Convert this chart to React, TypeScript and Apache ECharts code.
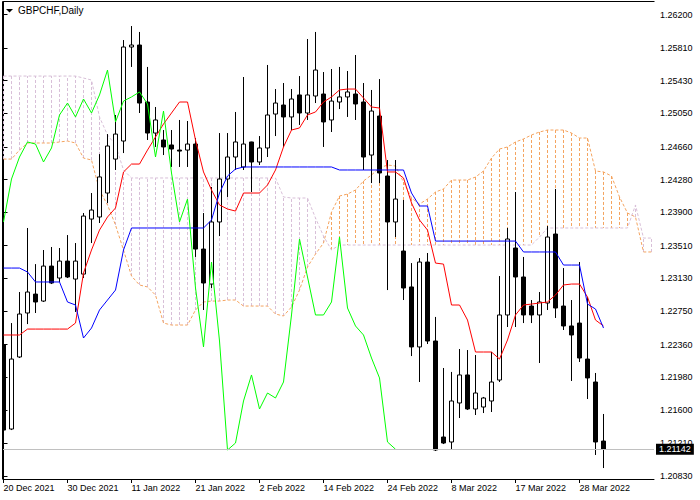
import React, { useEffect, useRef } from "react";
import * as echarts from "echarts";

// Trading days (bar index -> date)
const dates = [
  "20 Dec 2021","21 Dec 2021","22 Dec 2021","23 Dec 2021","24 Dec 2021","27 Dec 2021","28 Dec 2021","29 Dec 2021","30 Dec 2021","31 Dec 2021",
  "3 Jan 2022","4 Jan 2022","5 Jan 2022","6 Jan 2022","7 Jan 2022","10 Jan 2022","11 Jan 2022","12 Jan 2022","13 Jan 2022","14 Jan 2022",
  "17 Jan 2022","18 Jan 2022","19 Jan 2022","20 Jan 2022","21 Jan 2022","24 Jan 2022","25 Jan 2022","26 Jan 2022","27 Jan 2022","28 Jan 2022",
  "31 Jan 2022","1 Feb 2022","2 Feb 2022","3 Feb 2022","4 Feb 2022","7 Feb 2022","8 Feb 2022","9 Feb 2022","10 Feb 2022","11 Feb 2022",
  "14 Feb 2022","15 Feb 2022","16 Feb 2022","17 Feb 2022","18 Feb 2022","21 Feb 2022","22 Feb 2022","23 Feb 2022","24 Feb 2022","25 Feb 2022",
  "28 Feb 2022","1 Mar 2022","2 Mar 2022","3 Mar 2022","4 Mar 2022","7 Mar 2022","8 Mar 2022","9 Mar 2022","10 Mar 2022","11 Mar 2022",
  "13 Mar 2022","14 Mar 2022","15 Mar 2022","16 Mar 2022","17 Mar 2022","18 Mar 2022","21 Mar 2022","22 Mar 2022","23 Mar 2022","24 Mar 2022",
  "25 Mar 2022","27 Mar 2022","28 Mar 2022","29 Mar 2022","30 Mar 2022","31 Mar 2022",
];

const open = [
  1.22355, 1.21377, 1.22215, 1.22727, 1.22947, 1.22866, 1.23273, 1.23134, 1.23331, 1.23122,
  1.23180, 1.23820, 1.23844, 1.24123, 1.24518, 1.24728, 1.25822, 1.25845, 1.25182, 1.24821,
  1.24740, 1.24682, 1.24623, 1.24623, 1.24693, 1.23471, 1.23064, 1.23786, 1.24286, 1.24542,
  1.24426, 1.24717, 1.24484, 1.24647, 1.25042, 1.25147, 1.25008, 1.25264, 1.25054, 1.25252,
  1.25275, 1.24973, 1.25182, 1.25241, 1.25275, 1.25182, 1.24565, 1.25019, 1.24321, 1.23786,
  1.23448, 1.23030, 1.22332, 1.23320, 1.22401, 1.21284, 1.21226, 1.21680, 1.22006, 1.21610,
  1.21633, 1.21703, 1.21947, 1.22704, 1.23483, 1.23146, 1.22808, 1.22704, 1.22843, 1.23646,
  1.22808, 1.22576, 1.22610, 1.22191, 1.21924, 1.21237,
];
const close = [
  1.21365, 1.22191, 1.22715, 1.22971, 1.22855, 1.23273, 1.23076, 1.23331, 1.23146, 1.23331,
  1.23855, 1.23925, 1.24310, 1.24670, 1.24809, 1.25822, 1.25845, 1.25170, 1.24821, 1.24973,
  1.24659, 1.24635, 1.24611, 1.24693, 1.23471, 1.23076, 1.23786, 1.24286, 1.24542, 1.24717,
  1.24693, 1.24484, 1.24647, 1.25031, 1.25170, 1.25008, 1.25217, 1.25054, 1.25264, 1.25554,
  1.24950, 1.25193, 1.25241, 1.25299, 1.25159, 1.24542, 1.25077, 1.24356, 1.23786, 1.24053,
  1.23018, 1.22332, 1.23320, 1.22401, 1.21133, 1.21214, 1.21703, 1.22006, 1.21610, 1.21796,
  1.21738, 1.21924, 1.22704, 1.23588, 1.23146, 1.22704, 1.22704, 1.22855, 1.23611, 1.22785,
  1.22576, 1.22471, 1.22203, 1.21971, 1.21226, 1.21142,
];
const low = [
  1.21353, 1.21365, 1.22203, 1.22598, 1.22727, 1.22855, 1.23064, 1.23088, 1.23134, 1.22739,
  1.23134, 1.23541, 1.23774, 1.24007, 1.24391, 1.24588, 1.25590, 1.25054, 1.24740, 1.24659,
  1.24565, 1.24426, 1.24426, 1.24426, 1.23379, 1.22762, 1.23018, 1.23622, 1.24077, 1.24391,
  1.24391, 1.24135, 1.24449, 1.24542, 1.24786, 1.24659, 1.24856, 1.24915, 1.24973, 1.25170,
  1.24659, 1.24833, 1.25100, 1.25008, 1.24973, 1.24391, 1.24239, 1.24239, 1.22994, 1.23611,
  1.22878, 1.22226, 1.21924, 1.22366, 1.21121, 1.21202, 1.21133, 1.21505, 1.21598, 1.21540,
  1.21563, 1.21575, 1.21924, 1.22564, 1.22564, 1.22610, 1.22610, 1.22145, 1.22762, 1.22669,
  1.22529, 1.21936, 1.22157, 1.21726, 1.21075, 1.20923,
];
const high = [
  1.22378, 1.22610, 1.22971, 1.23716, 1.23296, 1.23460, 1.23495, 1.23483, 1.23634, 1.23541,
  1.23890, 1.24123, 1.24576, 1.24809, 1.25031, 1.25903, 1.26066, 1.25997, 1.25590, 1.25124,
  1.24856, 1.24856, 1.24973, 1.24961, 1.24763, 1.23890, 1.24193, 1.24821, 1.24821, 1.25066,
  1.25473, 1.24720, 1.24786, 1.25613, 1.25333, 1.25403, 1.25333, 1.25484, 1.25915, 1.25997,
  1.25531, 1.25566, 1.25590, 1.25543, 1.25729, 1.25403, 1.25322, 1.25449, 1.24507, 1.24507,
  1.24042, 1.23308, 1.23366, 1.23425, 1.22681, 1.22087, 1.22041, 1.22308, 1.22296, 1.22238,
  1.21750, 1.22273, 1.23157, 1.23716, 1.24135, 1.23379, 1.22878, 1.22971, 1.23739, 1.24170,
  1.23250, 1.22878, 1.23320, 1.22913, 1.22029, 1.21552,
];

// Ichimoku lines
const tenkan = [
  1.22471, 1.22471, 1.22471, 1.22540, 1.22540, 1.22540, 1.22540, 1.22540, 1.22540, 1.22610,
  1.23192, 1.23460, 1.23692, 1.23844, 1.23949, 1.24368, 1.24460, 1.24460, 1.24623, 1.24775,
  1.24926, 1.25054, 1.25182, 1.25182, 1.24740, 1.24368, 1.24158, 1.23984, 1.23937, 1.23913,
  1.24123, 1.24123, 1.24123, 1.24216, 1.24391, 1.24659, 1.24856, 1.24880, 1.25031, 1.25066,
  1.25182, 1.25241, 1.25322, 1.25333, 1.25333, 1.25229, 1.25124, 1.25112, 1.24368, 1.24368,
  1.24298, 1.24007, 1.23809, 1.23692, 1.23308, 1.23296, 1.22820, 1.22820, 1.22645, 1.22273,
  1.22273, 1.22273, 1.22191, 1.22413, 1.22704, 1.22820, 1.22831, 1.22843, 1.22855, 1.22936,
  1.23053, 1.23064, 1.23064, 1.22913, 1.22645, 1.22576,
];
const kijun = [
  1.23250, 1.23250, 1.23250, 1.23204, 1.23088, 1.23088, 1.23088, 1.23088, 1.22855, 1.22820,
  1.22436, 1.22552, 1.22762, 1.22878, 1.22994, 1.23460, 1.23716, 1.23716, 1.23716, 1.23716,
  1.23716, 1.23716, 1.23716, 1.23716, 1.23716, 1.23716, 1.23809, 1.24123, 1.24321, 1.24402,
  1.24426, 1.24426, 1.24426, 1.24426, 1.24426, 1.24426, 1.24426, 1.24426, 1.24426, 1.24426,
  1.24426, 1.24426, 1.24391, 1.24391, 1.24391, 1.24391, 1.24391, 1.24391, 1.24391, 1.24391,
  1.24391, 1.24123, 1.23972, 1.23972, 1.23564, 1.23564, 1.23564, 1.23564, 1.23564, 1.23564,
  1.23564, 1.23564, 1.23564, 1.23564, 1.23564, 1.23437, 1.23437, 1.23437, 1.23437, 1.23437,
  1.23285, 1.23285, 1.23285, 1.22831, 1.22773, 1.22552,
];
const spanA = [
  1.24518, 1.24518, 1.24623, 1.24705, 1.24705, 1.24705, 1.24705, 1.24717, 1.24728, 1.24705,
  1.24530, 1.24507, 1.24158, 1.23984, 1.23751, 1.23460, 1.23157, 1.23053, 1.23030, 1.22936,
  1.22610, 1.22587, 1.22587, 1.22587, 1.22762, 1.22855, 1.22866, 1.22866, 1.22878, 1.22878,
  1.22808, 1.22808, 1.22808, 1.22808, 1.22715, 1.22692, 1.22797, 1.22994, 1.23262, 1.23413,
  1.23541, 1.23902, 1.24088, 1.24111, 1.24158, 1.24263, 1.24333, 1.24414, 1.24449, 1.24437,
  1.24251, 1.24065, 1.23995, 1.24053, 1.24135, 1.24170, 1.24274, 1.24274, 1.24274, 1.24309,
  1.24379, 1.24530, 1.24635, 1.24659, 1.24717, 1.24752, 1.24798, 1.24833, 1.24856, 1.24856,
  1.24856, 1.24821, 1.24763, 1.24763, 1.24379, 1.24368, 1.24321, 1.24077, 1.23890, 1.23844,
  1.23437, 1.23437,
];
const spanB = [
  1.25484, 1.25484, 1.25484, 1.25484, 1.25484, 1.25484, 1.25484, 1.25484, 1.25484, 1.25484,
  1.25461, 1.25438, 1.25008, 1.24798, 1.24682, 1.24391, 1.24298, 1.24298, 1.24298, 1.24298,
  1.24298, 1.24298, 1.24298, 1.24298, 1.24298, 1.24298, 1.24298, 1.24298, 1.24298, 1.24298,
  1.24298, 1.24298, 1.24298, 1.24298, 1.24298, 1.24077, 1.24065, 1.24065, 1.24065, 1.23832,
  1.23622, 1.23460, 1.23518, 1.23518, 1.23518, 1.23518, 1.23518, 1.23518, 1.23518, 1.23518,
  1.23518, 1.23518, 1.23518, 1.23518, 1.23518, 1.23518, 1.23518, 1.23518, 1.23518, 1.23518,
  1.23518, 1.23518, 1.23518, 1.23518, 1.23518, 1.23518, 1.23518, 1.23611, 1.23716, 1.23716,
  1.23716, 1.23716, 1.23716, 1.23716, 1.23716, 1.23716, 1.23716, 1.23716, 1.23716, 1.23984,
  1.23599, 1.23599,
];
// Chikou span = close plotted 26 bars back
const CHIKOU_SHIFT = 26;

const yTicks = [1.262, 1.2581, 1.2543, 1.2505, 1.2466, 1.2428, 1.239, 1.2351, 1.2313, 1.2275, 1.2236, 1.2198, 1.216, 1.2121, 1.2083];
const xTickIdx = [0, 8, 16, 24, 32, 40, 48, 56, 64, 72];
const lastPrice = 1.21142;

const Y_MIN = 1.207954;
const Y_MAX = 1.263457;
const X_MIN = -0.4375;
const X_MAX = 81.3125;

const FONT = "Liberation Sans";

function buildOption(): any {
  const idx = (arr: number[]) => arr.map((v, i) => [i, v]);
  const candles = open.map((o, i) => [i, o, close[i], low[i], high[i]]);
  const chikou = close.slice(CHIKOU_SHIFT).map((c, i) => [i, c]);
  const kumo = spanA.map((a, i) => [i, a, spanB[i]]);

  return {
    animation: false,
    backgroundColor: "#ffffff",
    textStyle: { fontFamily: FONT },
    title: {
      text: "GBPCHF,Daily",
      left: 18,
      top: 5,
      padding: 0,
      textStyle: { fontSize: 10, fontWeight: "normal", color: "#000", fontFamily: FONT },
    },
    grid: { left: 0, right: 46, top: 2, bottom: 21, show: false },
    xAxis: {
      type: "value",
      min: X_MIN,
      max: X_MAX,
      axisLine: { show: true, onZero: false, lineStyle: { color: "#000", width: 1 } },
      axisTick: { show: true, customValues: xTickIdx, length: 4, lineStyle: { color: "#000" } },
      axisLabel: {
        customValues: xTickIdx,
        formatter: (v: number) => dates[Math.round(v)] ?? "",
        align: "left",
        margin: 4,
        fontSize: 9,
        color: "#000",
        fontFamily: FONT,
      },
      splitLine: { show: false },
    },
    yAxis: {
      type: "value",
      position: "right",
      min: Y_MIN,
      max: Y_MAX,
      axisLine: { show: true, lineStyle: { color: "#000", width: 1 } },
      axisTick: { show: true, customValues: yTicks, length: 4, lineStyle: { color: "#000" } },
      axisLabel: {
        customValues: yTicks,
        formatter: (v: number) => v.toFixed(5),
        margin: 6,
        fontSize: 9,
        color: "#000",
        fontFamily: FONT,
      },
      splitLine: { show: false },
    },
    series: [
      {
        type: "custom",
        name: "Kumo",
        silent: true,
        z: 1,
        data: kumo,
        encode: { x: 0, y: [1, 2] },
        renderItem: (params: any, api: any) => {
          const i = api.value(0);
          const a = api.value(1);
          const b = api.value(2);
          const pa = api.coord([i, a]);
          const pb = api.coord([i, b]);
          const x = Math.floor(pa[0]) + 0.5;
          return {
            type: "line",
            shape: { x1: x, y1: pa[1], x2: x, y2: pb[1] },
            style: {
              stroke: a >= b ? "#F4A460" : "#D8BFD8",
              lineWidth: 1,
              lineDash: [3, 2],
            },
          };
        },
      },
      {
        type: "line",
        name: "Senkou Span A",
        data: idx(spanA),
        symbol: "none",
        silent: true,
        z: 2,
        lineStyle: { color: "#F4A460", width: 1, type: [3, 2] },
      },
      {
        type: "line",
        name: "Senkou Span B",
        data: idx(spanB),
        symbol: "none",
        silent: true,
        z: 2,
        lineStyle: { color: "#D8BFD8", width: 1, type: [3, 2] },
      },
      {
        type: "candlestick",
        name: "GBPCHF",
        data: candles,
        barWidth: 4,
        z: 3,
        itemStyle: {
          color: "#ffffff",
          color0: "#000000",
          borderColor: "#000000",
          borderColor0: "#000000",
          borderWidth: 1,
        },
        markLine: {
          silent: true,
          symbol: ["none", "none"],
          precision: 5,
          z: 5,
          lineStyle: { color: "#C0C0C0", width: 1, type: "solid" },
          label: {
            show: true,
            position: "end",
            formatter: (p: any) => Number(p.value).toFixed(5),
            color: "#fff",
            backgroundColor: "#000",
            padding: [1, 3, 0, 3],
            lineHeight: 10,
            distance: 2,
            fontSize: 9,
            fontFamily: FONT,
          },
          data: [{ yAxis: lastPrice }],
        },
      },
      {
        type: "line",
        name: "Tenkan-sen",
        data: idx(tenkan),
        symbol: "none",
        silent: true,
        z: 4,
        lineStyle: { color: "#FF0000", width: 1 },
      },
      {
        type: "line",
        name: "Kijun-sen",
        data: idx(kijun),
        symbol: "none",
        silent: true,
        z: 4,
        lineStyle: { color: "#0000FF", width: 1 },
      },
      {
        type: "line",
        name: "Chikou Span",
        data: chikou,
        symbol: "none",
        silent: true,
        z: 4,
        lineStyle: { color: "#00FF00", width: 1 },
      },
    ],
    graphic: [
      { type: "rect", shape: { x: 0, y: 0, width: 2.5, height: 480 }, style: { fill: "#fff" }, z: 50, silent: true },
      { type: "line", shape: { x1: 2.5, y1: 1.5, x2: 2.5, y2: 479 }, style: { stroke: "#000", lineWidth: 1 }, z: 51, silent: true },
      { type: "line", shape: { x1: 2.5, y1: 1.5, x2: 654.5, y2: 1.5 }, style: { stroke: "#000", lineWidth: 1 }, z: 51, silent: true },
      { type: "polygon", shape: { points: [[6, 9], [13, 9], [9.5, 12.5]] }, style: { fill: "#000" }, z: 51, silent: true },
    ],
  };
}

export default function App() {
  const ref = useRef<HTMLDivElement>(null);
  useEffect(() => {
    if (!ref.current) return;
    const chart = echarts.init(ref.current, null, { renderer: "svg" });
    chart.setOption(buildOption());
    return () => chart.dispose();
  }, []);
  return (
    <div
      ref={ref}
      style={{ position: "absolute", left: 0, top: 0, width: 700, height: 500, background: "#fff" }}
    />
  );
}
